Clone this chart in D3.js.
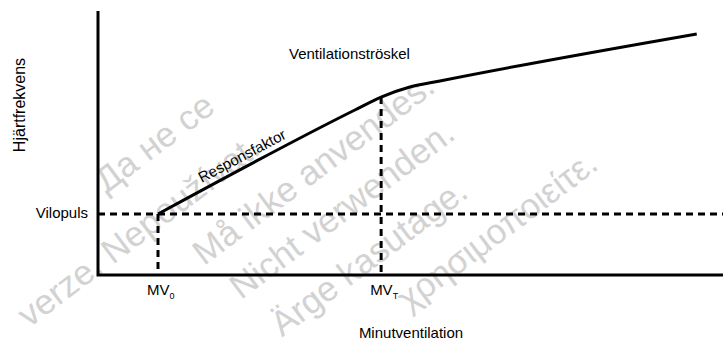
<!DOCTYPE html>
<html><head><meta charset="utf-8">
<script src="https://cdn.jsdelivr.net/npm/d3@7"></script>
<style>
body{margin:0;background:#fff}
svg{display:block}
text{font-family:"Liberation Sans",Arial,Helvetica,sans-serif}
</style>
</head><body>
<svg id="chart" width="723" height="343"></svg>
<script>
// ---- data ----
const curveX = [9.6, 41.1, 45.3, 49.9, 54.7, 95.8];   // minute ventilation (relative)
const curveY = [23.1, 62.5, 67.4, 71.2, 73.5, 91.3];  // heart rate (relative)
const restX = 9.6;        // MV0
const thresholdX = 45.3;  // MVT
const restY = 23.1;       // Vilopuls
const thresholdY = 67.4;
const markerNames = ["MV", "MV"];
const markerSubs = ["0", "T"];
const markerXs = [restX, thresholdX];
const xTitle = "Minutventilation";
const yTitle = "Hjärtfrekvens";
const restLabel = "Vilopuls";
const slopeLabel = "Responsfaktor";
const thresholdLabel = "Ventilationströskel";
const wmTexts = [
  "Остаряла версия. Да не се използва.",
  "Zastaralá verze. Nepoužívat.",
  "Forældet version. Må ikke anvendes.",
  "Version überholt. Nicht verwenden.",
  "Aegunud versioon. Ärge kasutage.",
  "Παλιά έκδοση. Μην την χρησιμοποιείτε."
];
const wmEndX = [350, 262, 437, 457, 470, 600];
const wmIntercept = [274, 350, 420, 482, 550, 620];

// ---- drawing ----
const W = 723, H = 343;
const svg = d3.select("#chart");
const x = d3.scaleLinear().domain([0, 100]).range([98, 723]);
const y = d3.scaleLinear().domain([0, 100]).range([275, 11]);

// watermark (word by word, only words fully inside the picture)
const wmDeg = -37, wmRad = wmDeg * Math.PI / 180;
const dir = [Math.cos(wmRad), Math.sin(wmRad)];
const wm = svg.append("g").attr("fill", "#d2d2d2").attr("font-size", 35);
wmTexts.forEach((t, i) => {
  const probe = wm.append("text").attr("visibility", "hidden").text(t);
  const node = probe.node();
  const full = node.getComputedTextLength();
  const ex = wmEndX[i], ey = wmIntercept[i] + Math.tan(wmRad) * ex;
  const sx = ex - full * dir[0], sy = ey - full * dir[1];
  let idx = 0;
  t.split(" ").forEach(w => {
    const off = idx > 0 ? node.getSubStringLength(0, idx) : 0;
    const el = wm.append("text")
      .attr("transform", `translate(${sx + off * dir[0]},${sy + off * dir[1]}) rotate(${wmDeg})`)
      .text(w);
    const r = el.node().getBoundingClientRect();
    if (r.left < -3 || r.top < -3 || r.right > W + 3 || r.bottom > H + 3) el.remove();
    idx += w.length + 1;
  });
  probe.remove();
});

// axes
svg.append("path")
  .attr("d", `M${x(0)},${y(100)}V${y(0)}H${x(100)}`)
  .attr("fill", "none").attr("stroke", "#000").attr("stroke-width", 3)
  .attr("stroke-linejoin", "miter");

// dashed reference lines
const dash = "7,5";
svg.append("line")
  .attr("x1", x(0)).attr("x2", x(100)).attr("y1", y(restY)).attr("y2", y(restY))
  .attr("stroke", "#000").attr("stroke-width", 3).attr("stroke-dasharray", dash);
svg.append("line")
  .attr("x1", x(restX)).attr("x2", x(restX)).attr("y1", y(restY)).attr("y2", y(0))
  .attr("stroke", "#000").attr("stroke-width", 3).attr("stroke-dasharray", dash);
svg.append("line")
  .attr("x1", x(thresholdX)).attr("x2", x(thresholdX)).attr("y1", y(thresholdY)).attr("y2", y(0))
  .attr("stroke", "#000").attr("stroke-width", 3).attr("stroke-dasharray", dash);

// curve
const pts = curveX.map((v, i) => [v, curveY[i]]);
svg.append("path")
  .datum(pts)
  .attr("d", d3.line().x(d => x(d[0])).y(d => y(d[1])).curve(d3.curveMonotoneX))
  .attr("fill", "none").attr("stroke", "#000").attr("stroke-width", 3);

// labels
const fs = 15;
svg.append("text")
  .attr("transform", `translate(${x(0) - 73},${(y(0) + y(100)) / 2 - 38}) rotate(-90)`)
  .attr("text-anchor", "middle").attr("font-size", 16).text(yTitle);

svg.append("text")
  .attr("x", x(0) - 10).attr("y", y(restY) + 4)
  .attr("text-anchor", "end").attr("font-size", fs).text(restLabel);

markerXs.forEach((mx, i) => {
  const t = svg.append("text")
    .attr("x", x(mx) - 11).attr("y", y(0) + 20)
    .attr("font-size", fs);
  t.append("tspan").text(markerNames[i]);
  t.append("tspan").attr("font-size", 9).attr("dy", 4).text(markerSubs[i]);
});

svg.append("text")
  .attr("x", 411).attr("y", 338)
  .attr("text-anchor", "middle").attr("font-size", fs).text(xTitle);

svg.append("text")
  .attr("x", 289).attr("y", 59)
  .attr("font-size", fs).text(thresholdLabel);

// slope label along first segment
const p0 = [x(curveX[0]), y(curveY[0])], p1 = [x(curveX[1]), y(curveY[1])];
const ang = Math.atan2(p1[1] - p0[1], p1[0] - p0[0]) * 180 / Math.PI;
const frac = (205 - p0[0]) / (p1[0] - p0[0]);
const sx0 = p0[0] + frac * (p1[0] - p0[0]), sy0 = p0[1] + frac * (p1[1] - p0[1]);
svg.append("text")
  .attr("transform", `translate(${sx0},${sy0}) rotate(${ang}) translate(0,-7)`)
  .attr("font-size", fs).text(slopeLabel);
</script>
</body></html>
